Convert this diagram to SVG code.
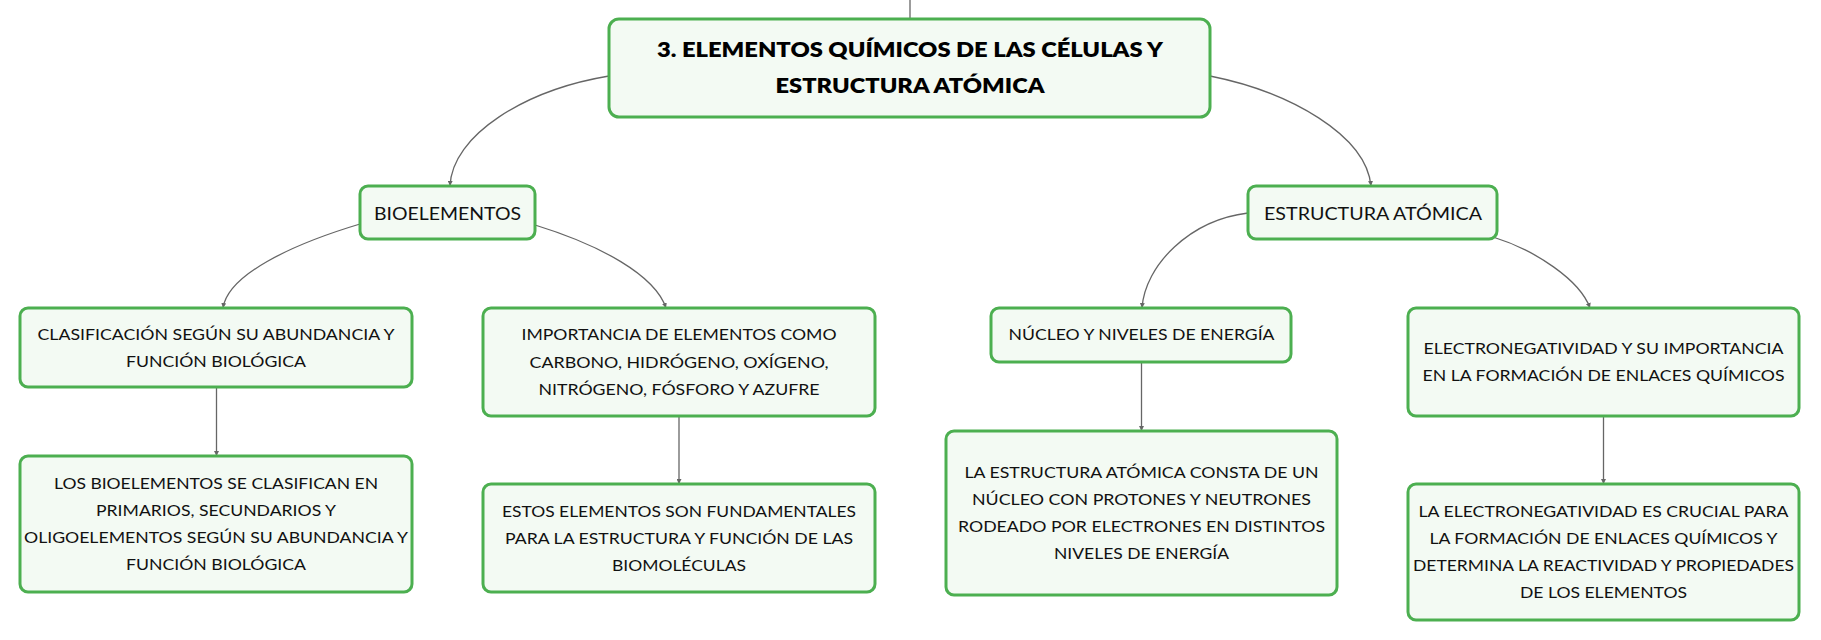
<svg xmlns="http://www.w3.org/2000/svg" width="1821" height="640" viewBox="0 0 1821 640">
<style>
.box{fill:#f3faf3;stroke:#4caf50;stroke-width:3}
.t{font-family:Lato,"Noto Sans","Liberation Sans",sans-serif;font-size:16px;fill:#111;text-anchor:middle}
.t1{font-family:Lato,"Noto Sans","Liberation Sans",sans-serif;font-size:18px;fill:#111;text-anchor:middle}
.t0{font-family:Lato,"Noto Sans","Liberation Sans",sans-serif;font-size:21px;font-weight:800;fill:#000;text-anchor:middle}
.e{fill:none;stroke:#666;stroke-width:1.3}
</style>
<defs>
<marker id="ah" viewBox="0 0 6 6" refX="6" refY="3" markerWidth="5" markerHeight="5" markerUnits="userSpaceOnUse" orient="auto">
<path d="M0,0 L6,3 L0,6 z" fill="#666"/>
</marker>
</defs>
<g id="connectors">
<path class="e" d="M910,0 L910,19"/>
<path class="e" d="M609,76 C525,90 452,135 450,186" marker-end="url(#ah)"/>
<path class="e" d="M1210,76 C1290,92 1366,135 1371,186" marker-end="url(#ah)"/>
<path class="e" d="M360,224 C290,245 228,275 223,308" marker-end="url(#ah)"/>
<path class="e" d="M535,225 C600,245 655,275 666,308" marker-end="url(#ah)"/>
<path class="e" d="M1248,213 C1190,220 1145,265 1142,308" marker-end="url(#ah)"/>
<path class="e" d="M1493,237 C1535,250 1580,280 1590,308" marker-end="url(#ah)"/>
<path class="e" d="M216.5,387 L216.5,456" marker-end="url(#ah)"/>
<path class="e" d="M679,416 L679,484" marker-end="url(#ah)"/>
<path class="e" d="M1141.5,362 L1141.5,431" marker-end="url(#ah)"/>
<path class="e" d="M1603.5,416 L1603.5,484" marker-end="url(#ah)"/>
</g>
<g id="root">
<rect class="box" x="609" y="19" width="601" height="98" rx="10"/>
<text class="t0" x="910" y="57" textLength="506" lengthAdjust="spacingAndGlyphs">3. ELEMENTOS QUÍMICOS DE LAS CÉLULAS Y</text>
<text class="t0" x="910" y="93" textLength="269" lengthAdjust="spacingAndGlyphs">ESTRUCTURA ATÓMICA</text>
</g>
<g id="bioelementos">
<rect class="box" x="360" y="186" width="175" height="53" rx="8"/>
<text class="t1" x="447.5" y="219.5" textLength="147" lengthAdjust="spacingAndGlyphs">BIOELEMENTOS</text>
</g>
<g id="estructura">
<rect class="box" x="1248" y="186" width="249" height="53" rx="8"/>
<text class="t1" x="1373" y="219.5" textLength="218" lengthAdjust="spacingAndGlyphs">ESTRUCTURA ATÓMICA</text>
</g>
<g id="clasificacion">
<rect class="box" x="20" y="308" width="392" height="79" rx="8"/>
<text class="t" x="216" y="340" textLength="357" lengthAdjust="spacingAndGlyphs">CLASIFICACIÓN SEGÚN SU ABUNDANCIA Y</text>
<text class="t" x="216" y="367" textLength="180" lengthAdjust="spacingAndGlyphs">FUNCIÓN BIOLÓGICA</text>
</g>
<g id="importancia">
<rect class="box" x="483" y="308" width="392" height="108" rx="8"/>
<text class="t" x="679" y="340" textLength="315" lengthAdjust="spacingAndGlyphs">IMPORTANCIA DE ELEMENTOS COMO</text>
<text class="t" x="679" y="368" textLength="299" lengthAdjust="spacingAndGlyphs">CARBONO, HIDRÓGENO, OXÍGENO,</text>
<text class="t" x="679" y="395" textLength="281" lengthAdjust="spacingAndGlyphs">NITRÓGENO, FÓSFORO Y AZUFRE</text>
</g>
<g id="nucleo">
<rect class="box" x="991" y="308" width="300" height="54" rx="8"/>
<text class="t" x="1141.5" y="340" textLength="266" lengthAdjust="spacingAndGlyphs">NÚCLEO Y NIVELES DE ENERGÍA</text>
</g>
<g id="electronegatividad">
<rect class="box" x="1408" y="308" width="391" height="108" rx="8"/>
<text class="t" x="1603.5" y="354" textLength="360" lengthAdjust="spacingAndGlyphs">ELECTRONEGATIVIDAD Y SU IMPORTANCIA</text>
<text class="t" x="1603.5" y="381" textLength="362" lengthAdjust="spacingAndGlyphs">EN LA FORMACIÓN DE ENLACES QUÍMICOS</text>
</g>
<g id="bioelementos-detalle">
<rect class="box" x="20" y="456" width="392" height="136" rx="8"/>
<text class="t" x="216" y="489" textLength="324" lengthAdjust="spacingAndGlyphs">LOS BIOELEMENTOS SE CLASIFICAN EN</text>
<text class="t" x="216" y="516" textLength="240" lengthAdjust="spacingAndGlyphs">PRIMARIOS, SECUNDARIOS Y</text>
<text class="t" x="216" y="543" textLength="384" lengthAdjust="spacingAndGlyphs">OLIGOELEMENTOS SEGÚN SU ABUNDANCIA Y</text>
<text class="t" x="216" y="570" textLength="180" lengthAdjust="spacingAndGlyphs">FUNCIÓN BIOLÓGICA</text>
</g>
<g id="estos-elementos">
<rect class="box" x="483" y="484" width="392" height="108" rx="8"/>
<text class="t" x="679" y="517" textLength="354" lengthAdjust="spacingAndGlyphs">ESTOS ELEMENTOS SON FUNDAMENTALES</text>
<text class="t" x="679" y="544" textLength="348" lengthAdjust="spacingAndGlyphs">PARA LA ESTRUCTURA Y FUNCIÓN DE LAS</text>
<text class="t" x="679" y="571" textLength="134" lengthAdjust="spacingAndGlyphs">BIOMOLÉCULAS</text>
</g>
<g id="estructura-detalle">
<rect class="box" x="946" y="431" width="391" height="164" rx="8"/>
<text class="t" x="1141.5" y="478" textLength="354" lengthAdjust="spacingAndGlyphs">LA ESTRUCTURA ATÓMICA CONSTA DE UN</text>
<text class="t" x="1141.5" y="505" textLength="339" lengthAdjust="spacingAndGlyphs">NÚCLEO CON PROTONES Y NEUTRONES</text>
<text class="t" x="1141.5" y="532" textLength="367" lengthAdjust="spacingAndGlyphs">RODEADO POR ELECTRONES EN DISTINTOS</text>
<text class="t" x="1141.5" y="559" textLength="175" lengthAdjust="spacingAndGlyphs">NIVELES DE ENERGÍA</text>
</g>
<g id="electronegatividad-detalle">
<rect class="box" x="1408" y="484" width="391" height="136" rx="8"/>
<text class="t" x="1603.5" y="517" textLength="370" lengthAdjust="spacingAndGlyphs">LA ELECTRONEGATIVIDAD ES CRUCIAL PARA</text>
<text class="t" x="1603.5" y="544" textLength="348" lengthAdjust="spacingAndGlyphs">LA FORMACIÓN DE ENLACES QUÍMICOS Y</text>
<text class="t" x="1603.5" y="571" textLength="381" lengthAdjust="spacingAndGlyphs">DETERMINA LA REACTIVIDAD Y PROPIEDADES</text>
<text class="t" x="1603.5" y="598" textLength="167" lengthAdjust="spacingAndGlyphs">DE LOS ELEMENTOS</text>
</g>
</svg>
